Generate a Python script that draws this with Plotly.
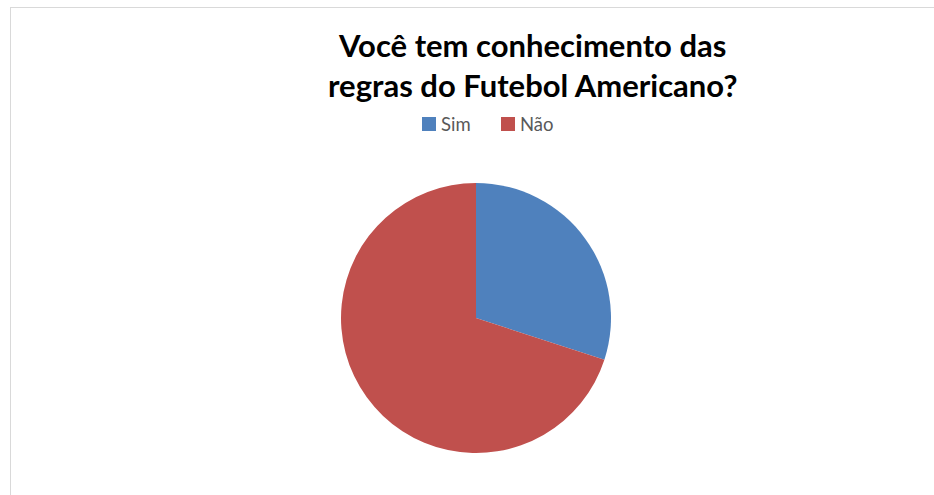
import plotly.graph_objects as go

labels = ["Sim", "Não"]
values = [30, 70]
colors = ["#4F81BD", "#C0504D"]
title_lines = ["Você tem conhecimento das", "regras do Futebol Americano?"]

W, H = 934, 495

fig = go.Figure(go.Pie(
    labels=labels, values=values,
    marker=dict(colors=colors, line=dict(width=0)),
    sort=False, direction="clockwise", rotation=0,
    textinfo="none", hoverinfo="label+value",
    domain=dict(x=[340 / W, 612 / W], y=[1 - 453 / H, 1 - 183 / H]),
))

def px(x):
    return x / W

def py(y):
    return 1 - y / H

shapes = [
    dict(type="line", xref="paper", yref="paper", x0=px(10), x1=1, y0=py(7.5), y1=py(7.5),
         line=dict(color="#D9D9D9", width=1)),
    dict(type="line", xref="paper", yref="paper", x0=px(10.5), x1=px(10.5), y0=0, y1=py(7),
         line=dict(color="#D9D9D9", width=1)),
]
annotations = [dict(text="<b>" + title_lines[0] + "<br>" + title_lines[1] + "</b>",
                    x=px(532), y=py(65), xref="paper", yref="paper",
                    xanchor="center", yanchor="middle", showarrow=False,
                    font=dict(family="Lato", size=31, color="black"))]

# manual legend
leg_x = [422, 501]
for lab, col, lx in zip(labels, colors, leg_x):
    shapes.append(dict(type="rect", xref="paper", yref="paper",
                       x0=px(lx), x1=px(lx + 14), y0=py(131), y1=py(117),
                       fillcolor=col, line=dict(width=0)))
    annotations.append(dict(text=lab, x=px(lx + 17), y=py(124), xref="paper", yref="paper",
                            xanchor="left", yanchor="middle", showarrow=False,
                            font=dict(family="Lato", size=18.5, color="#595959")))

fig.update_layout(
    width=W, height=H,
    margin=dict(l=0, r=0, t=0, b=0),
    paper_bgcolor="white",
    showlegend=False,
    annotations=annotations,
    shapes=shapes,
)

fig.write_html("out.html", config={"displayModeBar": False},
               post_script="document.body.style.margin='0';document.body.style.overflow='hidden';")
